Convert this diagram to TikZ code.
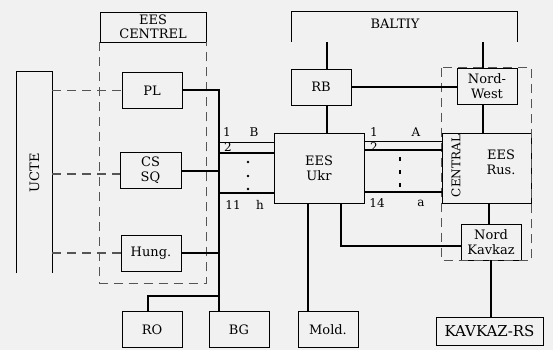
\documentclass[tikz,border=0pt]{standalone}
\usepackage{fontspec}
\setmainfont{DejaVu Serif}
\usetikzlibrary{positioning, calc}
\definecolor{paper}{RGB}{241,241,241}
\definecolor{tiecolor}{RGB}{85,85,85}
\tikzset{
  box/.style  = {draw, line width=0.9pt, minimum width=60pt, minimum height=36pt,
                 inner sep=0pt, align=center, font=\fontsize{13}{15}\selectfont},
  link/.style = {line width=2pt},
  wire/.style = {line width=0.9pt},
  tie/.style  = {draw=tiecolor, line width=1.1pt, dash pattern=on 9pt off 6pt},
  lbl/.style  = {inner sep=0pt, align=center, font=\fontsize{12}{15}\selectfont},
}

\begin{document}
\begin{tikzpicture}[x=1pt, y=-1pt]
  \fill[paper] (0,0) rectangle (553,350);
  \useasboundingbox (0,0) rectangle (553,350);

  % left side: UCTE and EES CENTREL
  \node[minimum width=35pt, minimum height=201pt, inner sep=0pt, font=\fontsize{13}{15}\selectfont]
    (ucte) at (34.5,172.5) {\rotatebox{90}{UCTE}};
  \draw[wire] (ucte.south west) -- (ucte.north west) -- (ucte.north east) -- (ucte.south east);
  \node[box, minimum width=106pt, minimum height=30pt, font=\fontsize{13}{14}\selectfont]
    (centrel) at (153,27) {EES\\CENTREL};
  \draw[tie] (centrel.south west) -- ++(0,241) -| (centrel.south east);

  \node[box] (PL)   at (152,90.5)  {PL};
  \node[box, minimum width=61pt] (CS) at (150.5,170.5) {CS\\SQ};
  \node[box] (Hung) at (151,253)   {Hung.};
  \node[box] (RO)   at (152,329.5) {RO};
  \node[box] (BG)   at (239,329.5) {BG};

  \draw[tie] (ucte.east |- PL.west) -- (PL.west);
  \draw[tie] (ucte.east |- 0,174) -- (CS.west |- 0,174);
  \draw[tie] (ucte.east |- Hung.west) -- (Hung.west);

  % bus
  \coordinate (bus) at (219,89);
  \draw[link] (PL.east) -| (BG.north -| bus);
  \draw[link] (CS.east) -- (CS.east -| bus);
  \draw[link] (Hung.east) -- (Hung.east -| bus);
  \draw[link] ([xshift=-4pt]RO.north) |- (bus |- 0,296);

  % middle: EES Ukr
  \node[box, minimum width=90pt, minimum height=70pt] (Ukr) at (319,168) {EES\\Ukr};
  \node[box] (Mold) at (328,329.5) {Mold.};
  \node[box] (RB)   at (321,87)    {RB};

  \foreach \y/\w in {142/0.9pt, 153/2pt, 193/2pt}
    \draw[line width=\w] (bus |- 0,\y) -- (Ukr.west |- 0,\y);
  \foreach \n/\x/\y/\t in {a/227/132/1, b/254/132/B, c/228/147/2, d/233/205/11, e/260/205/h}
    \node[lbl] (lu\n) at (\x,\y) {\t};
  \foreach \y in {162,176,189}
    \fill (248,\y) circle (1.3pt);

  % right side: BALTIY and CENTRAL
  \node[box] (NW) at (487,86) {Nord-\\West};
  \node[box, minimum width=89pt, minimum height=70pt] (Rus) at (486.5,168) {};
  \node[lbl, font=\fontsize{13}{15}\selectfont] (rusname) at (501,162) {EES\\Rus.};
  \node[lbl, rotate=90] (central) at (456,166) {CENTRAL};
  \node[box] (NK) at (491,242) {Nord\\Kavkaz};
  \node[box, minimum width=107pt, minimum height=28pt, font=\fontsize{15}{16}\selectfont]
    (KRS) at (489.5,331) {KAVKAZ-RS};
  \draw[tie] (NW.north -| Rus.west) rectangle (NK.south -| Rus.east);

  \coordinate (bl) at (291,42);
  \coordinate (br) at (517,42);
  \draw[wire] (bl) -- ++(0,-31) -| (br);
  \node[lbl, font=\fontsize{13}{15}\selectfont] (baltiy) at (395,24) {BALTIY};

  \foreach \y/\w in {141/0.9pt, 150/2pt, 192/2pt}
    \draw[line width=\w] (Ukr.east |- 0,\y) -- (Rus.west |- 0,\y);
  \foreach \n/\x/\y/\t in {a/374/132/1, b/416/132/A, c/374/147/2, d/377/203/14, e/421/203/a}
    \node[lbl] (lr\n) at (\x,\y) {\t};
  \foreach \y in {157,170,183}
    \fill (399,\y) rectangle (401,\y+4);

  % links
  \draw[link] ([xshift=6pt]RB.north) -- ([xshift=6pt]RB.north |- bl);
  \draw[link] ([xshift=-4pt]NW.north) -- ([xshift=-4pt]NW.north |- br);
  \draw[link] ([xshift=6pt]RB.south) -- ([xshift=6pt]RB.south |- Ukr.north);
  \draw[link] (RB.east) -- (RB.east -| NW.west);
  \draw[link] ([xshift=-4pt]NW.south) -- ([xshift=-4pt]NW.south |- Rus.north);
  \draw[link] ([xshift=-20pt]Mold.north) -- ([xshift=-20pt]Mold.north |- Ukr.south);
  \draw[link] ([xshift=22pt]Ukr.south) |- ([yshift=-4pt]NK.west);
  \draw[link] ([xshift=2pt]Rus.south) -- ([xshift=2pt]Rus.south |- NK.north);
  \draw[link] (NK.south) -- (NK.south |- KRS.north);
\end{tikzpicture}
\end{document}
